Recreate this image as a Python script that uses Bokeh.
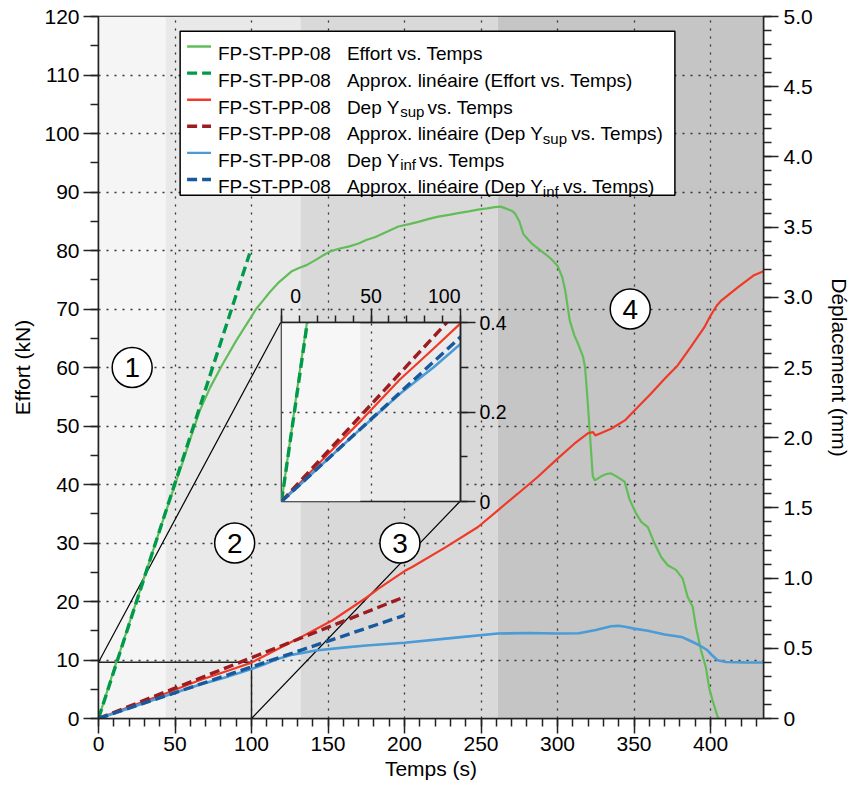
import numpy as np
from bokeh.plotting import figure
from bokeh.models import Range1d, LinearAxis, SingleIntervalTicker, GridBox, PrintfTickFormatter
from bokeh.embed import file_html
from bokeh.resources import INLINE
from bokeh.core.properties import value

# ---------------- data ----------------
t_force = [0, 5, 10, 15, 20, 30, 40, 45, 50, 55, 60, 66, 73, 81, 90, 99, 103, 108, 112, 118,
           122, 126, 131, 136, 142, 147, 151, 157, 164, 170, 175, 181, 186, 191, 196, 203, 209,
           216, 222, 229, 235, 242, 248, 254, 259, 263, 266, 270, 272, 275, 277.7, 281, 284, 288,
           292, 296, 300, 303, 305, 308, 311, 313.5, 316.7, 318, 319.5, 321, 323, 324.3, 328.6,
           332, 335, 339, 343.8, 347, 351, 354.7, 359, 363.4, 367.7, 372, 377.4, 381.8, 385,
           388.3, 390.5, 393.7, 396.9, 399.2, 401.3, 404.6, 405.5]
force = [0, 4.1, 8.3, 12.2, 16.2, 24.2, 32.2, 36.1, 40.0, 43.8, 47.8, 52.5, 56.6, 60.5, 64.6,
         68.3, 70.0, 71.6, 72.9, 74.6, 75.5, 76.4, 77.0, 77.5, 78.4, 79.2, 79.8, 80.3, 80.7, 81.2,
         81.8, 82.3, 82.9, 83.5, 84.1, 84.5, 84.9, 85.4, 85.8, 86.1, 86.4, 86.7, 87.0, 87.2, 87.4,
         87.5, 87.2, 86.8, 86.4, 85.0, 82.8, 81.8, 81.0, 80.2, 79.4, 78.5, 77.4, 75.5, 73.2, 68.0,
         65.5, 64.0, 61.8, 60.0, 54.9, 49.2, 41.5, 40.7, 41.4, 41.8, 41.9, 41.3, 40.5, 37.5, 35.2,
         33.6, 32.7, 29.9, 27.6, 26.2, 25.4, 23.9, 20.8, 19.1, 15.6, 11.7, 8.8, 5.1, 3.1, 0.3, 0]

t_sup = [0, 10, 27, 45, 66, 85, 100, 115, 132, 153, 175, 183, 200, 205, 227, 248, 261, 274, 287,
         300, 311, 320, 323.2, 324.7, 335, 344, 352.5, 361, 370, 378.5, 387, 396, 400, 404, 407,
         418, 428, 434.6]
dep_sup = [0, 0.040, 0.110, 0.183, 0.272, 0.342, 0.398, 0.482, 0.578, 0.70, 0.86, 0.925, 1.05,
           1.079, 1.221, 1.364, 1.483, 1.601, 1.72, 1.851, 1.957, 2.033, 2.04, 2.016, 2.064, 2.123,
           2.218, 2.313, 2.42, 2.515, 2.645, 2.787, 2.87, 2.94, 2.977, 3.072, 3.155, 3.186]

t_inf = [0, 10, 27, 45, 66, 85, 100, 108, 116, 127, 142, 160, 175, 200, 227, 261, 281, 300, 314,
         325, 335, 340, 345, 350, 359, 370, 381, 387, 393, 398, 401, 404.6, 410, 422, 434.6]
dep_inf = [0, 0.036, 0.099, 0.165, 0.240, 0.300, 0.352, 0.385, 0.420, 0.455, 0.484, 0.505, 0.52,
           0.54, 0.569, 0.605, 0.609, 0.605, 0.607, 0.63, 0.657, 0.66, 0.652, 0.64, 0.625, 0.598,
           0.581, 0.552, 0.52, 0.486, 0.45, 0.415, 0.402, 0.4, 0.399]

fit_force_t = [0, 98.8]
fit_force = [0, 79.5]
fit_sup_t = [0, 200]
fit_sup = [0, 0.866]
fit_inf_t = [0, 200]
fit_inf = [0, 0.735]

region_edges = [0, 44, 132, 261, 434.6]
region_colors = ["#f5f5f5", "#eae9ea", "#dad9da", "#c6c5c5"]
inset_region_colors = ["#f7f7f7", "#ecebec"]

zone_labels = ["1", "2", "3", "4"]
zone_t = [22, 89, 197, 347.5]
zone_f = [60, 30, 30, 70]

inset_t = [0, 100]          # zoomed window, time (s)
inset_mm = [0, 0.4]         # zoomed window, displacement (mm)
inset_force_max = 11.6      # hidden force scale of the inset (kN)

legend_desc = ["Effort vs. Temps", "Approx. linéaire (Effort vs. Temps)", "Dep Y", "Approx. linéaire (Dep Y",
               "Dep Y", "Approx. linéaire (Dep Y"]

# ---------------- styling ----------------
FONT = "Liberation Sans"
GREEN, DGREEN = "#62bd58", "#009a4a"
RED, DRED = "#ef3a28", "#9b1d22"
BLUE, DBLUE = "#4a9bd6", "#18599d"
INK = "#222222"

X_MAX, Y_MAX, MM_MAX = 434.6, 120, 5.0
W, H = 853, 785
BL, BR, BT, BB = 98, 87, 16, 67
FW, FH = W - BL - BR, H - BT - BB

# inset frame placement (pixels inside main figure)
INSET_FL, INSET_FT, IFW, IFH = 281, 322, 180, 179
IBL, IBR, IBT, IBB = 2, 48, 42, 14
IW, IH = IBL + IFW + IBR, IBT + IFH + IBB


def style_axis(ax, size, major=15, minor=8, standoff=4):
    ax.axis_line_color = INK
    ax.axis_line_width = 1.5
    ax.major_tick_line_color = INK
    ax.major_tick_line_width = 1.5
    ax.minor_tick_line_color = INK
    ax.minor_tick_line_width = 1.5
    ax.major_tick_in = 0
    ax.major_tick_out = major
    ax.minor_tick_in = 0
    ax.minor_tick_out = minor
    ax.major_label_text_font = FONT
    ax.major_label_text_font_size = size
    ax.major_label_text_color = "black"
    ax.major_label_standoff = standoff
    ax.axis_label_text_font = FONT
    ax.axis_label_text_font_size = "21px"
    ax.axis_label_text_font_style = "normal"
    ax.axis_label_text_color = "black"


# ---------------- main figure ----------------
p = figure(width=W, height=H, x_range=Range1d(0, X_MAX), y_range=Range1d(0, Y_MAX),
           output_backend="svg", toolbar_location=None,
           min_border_left=BL, min_border_right=BR, min_border_top=BT, min_border_bottom=BB,
           background_fill_color="white", border_fill_color="white",
           outline_line_color=INK, outline_line_width=1.5)
p.extra_y_ranges = {"mm": Range1d(0, MM_MAX), "ly": Range1d(FH, 0)}
p.extra_x_ranges = {"lx": Range1d(0, FW)}

xt = SingleIntervalTicker(interval=50, num_minor_ticks=5)
yt = SingleIntervalTicker(interval=10, num_minor_ticks=2)
p.xaxis.ticker = xt
p.yaxis.ticker = yt
style_axis(p.xaxis[0], "21px", standoff=3)
style_axis(p.yaxis[0], "21px", standoff=4)
p.xaxis.axis_label = "Temps (s)"
p.xaxis.axis_label_standoff = 3
p.yaxis.axis_label = "Effort (kN)"
p.yaxis.axis_label_standoff = 7

rax = LinearAxis(y_range_name="mm", ticker=SingleIntervalTicker(interval=0.5, num_minor_ticks=5),
                 formatter=PrintfTickFormatter(format="%.1f"))
rax.major_label_overrides = {0: "0"}
style_axis(rax, "21px", standoff=5)
rax.axis_label = "Déplacement (mm)"
rax.axis_label_standoff = 12
p.add_layout(rax, "right")

for g, tk in ((p.xgrid, xt), (p.ygrid, yt)):
    g.ticker = tk
    g.grid_line_color = "#333333"
    g.grid_line_dash = "2 6"
    g.grid_line_width = 1.3

# shaded phases
p.quad(left=region_edges[:-1], right=region_edges[1:], bottom=0, top=Y_MAX,
       fill_color=region_colors, line_color=None, level="image")

# zoom window and connectors
p.line([inset_t[0], inset_t[1], inset_t[1]], [inset_mm[1], inset_mm[1], inset_mm[0]],
       y_range_name="mm", line_color=INK, line_width=1.5)
tl_t = (INSET_FL - BL) / FW * X_MAX
tl_mm = MM_MAX * (1 - (INSET_FT - BT) / FH)
br_t = (INSET_FL + IFW - BL) / FW * X_MAX
br_mm = MM_MAX * (1 - (INSET_FT + IFH - BT) / FH)
p.segment(x0=[inset_t[0], inset_t[1]], y0=[inset_mm[1], inset_mm[0]], x1=[tl_t, br_t], y1=[tl_mm, br_mm],
          y_range_name="mm", line_color="black", line_width=1.2)

# curves
p.line(t_force, force, line_color=GREEN, line_width=2.2)
p.line(fit_force_t, fit_force, line_color=DGREEN, line_width=3.4, line_dash="10 5")
p.line(t_sup, dep_sup, y_range_name="mm", line_color=RED, line_width=2.2)
p.line(fit_sup_t, fit_sup, y_range_name="mm", line_color=DRED, line_width=3.4, line_dash="10 5")
p.line(t_inf, dep_inf, y_range_name="mm", line_color=BLUE, line_width=2.6)
p.line(fit_inf_t, fit_inf, y_range_name="mm", line_color=DBLUE, line_width=3.4, line_dash="10 5")

# phase markers
p.scatter(zone_t, zone_f, marker="circle", size=40, fill_color="white", line_color="black", line_width=1.5)
p.text(zone_t, zone_f, text=zone_labels, text_align="center", text_baseline="middle",
       text_font=value(FONT), text_font_size="28px", text_color="black")

# ---------------- legend (frame-pixel coordinates) ----------------
p.quad(left=[82], right=[579], top=[14.7], bottom=[178.7], x_range_name="lx", y_range_name="ly",
       fill_color="white", line_color="black", line_width=1.5)
row_base = [37.3 + 26.6 * i for i in range(6)]
row_mid = [b - 7.3 for b in row_base]
leg_colors = [GREEN, DGREEN, RED, DRED, BLUE, DBLUE]
solid_rows = [0, 2, 4]
dash_rows = [1, 3, 5]
p.segment(x0=[89] * 3, x1=[113] * 3, y0=[row_mid[i] for i in solid_rows], y1=[row_mid[i] for i in solid_rows],
          line_color=[leg_colors[i] for i in solid_rows], line_width=2.4, x_range_name="lx", y_range_name="ly")
p.segment(x0=[89] * 3, x1=[113] * 3, y0=[row_mid[i] for i in dash_rows], y1=[row_mid[i] for i in dash_rows],
          line_color=[leg_colors[i] for i in dash_rows], line_width=3.4, line_dash="10 5",
          x_range_name="lx", y_range_name="ly")
p.text(x=[120] * 6, y=row_base, text=["FP-ST-PP-08"] * 6, text_font=value(FONT), text_font_size="19px",
       text_baseline="alphabetic", text_color="black", x_range_name="lx", y_range_name="ly")
p.text(x=[249.5] * 6, y=row_base, text=legend_desc, text_font=value(FONT), text_font_size="19px",
       text_baseline="alphabetic", text_color="black", x_range_name="lx", y_range_name="ly")
# subscripts
p.text(x=[303.0, 446.3, 303.0, 446.3], y=[row_base[i] + 4.5 for i in (2, 3, 4, 5)],
       text=["sup", "sup", "inf", "inf"], text_font=value(FONT), text_font_size="15px",
       text_baseline="alphabetic", text_color="black", x_range_name="lx", y_range_name="ly")
p.text(x=[330.5, 475.0, 322.0, 466.5], y=[row_base[i] for i in (2, 3, 4, 5)],
       text=["vs. Temps", "vs. Temps)", "vs. Temps", "vs. Temps)"], text_font=value(FONT),
       text_font_size="19px", text_baseline="alphabetic", text_color="black", x_range_name="lx", y_range_name="ly")

# ---------------- inset ----------------
pi = figure(width=IW, height=IH, x_range=Range1d(inset_t[0], inset_t[1]), y_range=Range1d(inset_mm[0], inset_mm[1]),
            x_axis_location="above", y_axis_location="right",
            output_backend="svg", toolbar_location=None,
            min_border_left=IBL, min_border_right=IBR, min_border_top=IBT, min_border_bottom=IBB,
            border_fill_color=None, background_fill_color=inset_region_colors[1],
            outline_line_color=INK, outline_line_width=1.5)
pi.extra_y_ranges = {"force": Range1d(0, inset_force_max)}
ixt = SingleIntervalTicker(interval=50, num_minor_ticks=5)
iyt = SingleIntervalTicker(interval=0.2, num_minor_ticks=2)
pi.xaxis.ticker = ixt
pi.yaxis.ticker = iyt
pi.xaxis.major_label_overrides = {0: "\u20070", 100: "100\u2007\u2007\u2007"}
pi.yaxis.formatter = PrintfTickFormatter(format="%.1f")
pi.yaxis.major_label_overrides = {0: "0"}
style_axis(pi.xaxis[0], "19.5px", major=14, minor=7, standoff=2)
style_axis(pi.yaxis[0], "19.5px", major=15, minor=7, standoff=4)
for g, tk in ((pi.xgrid, ixt), (pi.ygrid, iyt)):
    g.ticker = tk
    g.grid_line_color = "#333333"
    g.grid_line_dash = "2 6"
    g.grid_line_width = 1.3

pi.quad(left=[region_edges[0]], right=[region_edges[1]], bottom=[inset_mm[0]], top=[inset_mm[1]],
        fill_color=inset_region_colors[0], line_color=None, level="image")
pi.line(t_force, force, y_range_name="force", line_color=GREEN, line_width=2.2)
pi.line(fit_force_t, fit_force, y_range_name="force", line_color=DGREEN, line_width=3.4, line_dash="10 5")
pi.line(t_sup, dep_sup, line_color=RED, line_width=2.2)
pi.line(fit_sup_t, fit_sup, line_color=DRED, line_width=3.4, line_dash="10 5")
pi.line(t_inf, dep_inf, line_color=BLUE, line_width=2.6)
pi.line(fit_inf_t, fit_inf, line_color=DBLUE, line_width=3.4, line_dash="10 5")

# ---------------- overlay layout ----------------
c0 = INSET_FL - IBL
r0 = INSET_FT - IBT
layout = GridBox(children=[(p, 0, 0, 3, 3), (pi, 1, 1, 1, 1)],
                 rows=[f"{r0}px", f"{IH}px", f"{H - r0 - IH}px"],
                 cols=[f"{c0}px", f"{IW}px", f"{W - c0 - IW}px"])

open("out.html", "w").write(file_html(layout, INLINE, "FP-ST-PP-08"))
